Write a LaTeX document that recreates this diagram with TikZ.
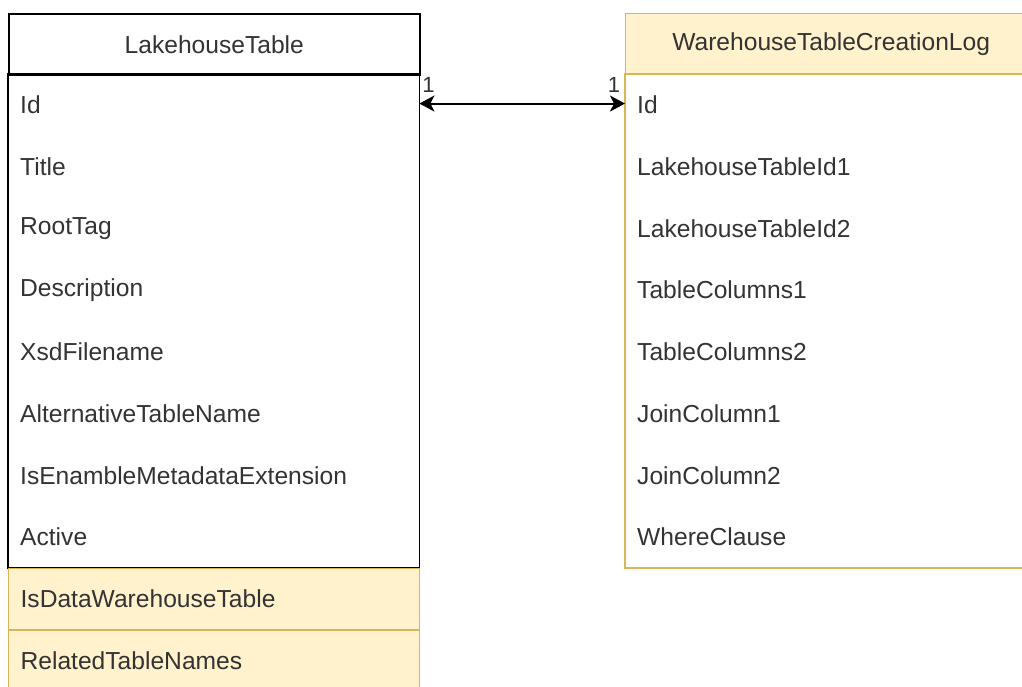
\documentclass[tikz,border=0pt]{standalone}
\usepackage{fontspec}
\setmainfont{Liberation Sans}
\usetikzlibrary{arrows.meta}
\definecolor{noteFill}{HTML}{FFF2CC}
\definecolor{noteLine}{HTML}{D6B656}
\definecolor{ink}{HTML}{333333}
\tikzset{
  x=1pt, y=-1pt,
  every node/.style={font=\fontsize{24.6}{28}\selectfont, text=ink},
  field/.style={rectangle, anchor=north west, minimum width=411pt, minimum height=61.7pt,
    inner xsep=12pt, inner ysep=0pt, text width=387pt, align=left},
  headbox/.style={rectangle, anchor=north west, minimum width=411pt, minimum height=61pt,
    inner sep=0pt, align=center},
  plainline/.style={draw=black, line width=1.6pt},
  noteline/.style={draw=noteLine, line width=1.3pt},
  card/.style={font=\fontsize{22}{24}\selectfont, text=ink, inner sep=0pt},
  link/.style={line width=2pt, {Stealth[length=15pt,width=16pt,inset=4pt]}-{Stealth[length=15pt,width=16pt,inset=4pt]}}
}
\begin{document}
\begin{tikzpicture}
\useasboundingbox (0,0) rectangle (1022,686);

% LakehouseTable
\node[headbox, plainline, fill=white] (lhead) at (8,13) {LakehouseTable};
\node[field] (lid)    at (8,74)    {Id};
\node[field] (ltitle) at (8,135.7) {Title};
\node[field] (lroot)  at (8,197.4) {RootTag};
\node[field] (ldesc)  at (8,259.1) {Description};
\node[field] (lxsd)   at (8,320.8) {XsdFilename};
\node[field] (lalt)   at (8,382.5) {AlternativeTableName};
\node[field] (lmeta)  at (8,444.2) {IsEnambleMetadataExtension};
\node[field] (lact)   at (8,505.9) {Active};
\draw[plainline] (lid.north west) rectangle (lact.south east);
\node[field, noteline, fill=noteFill] (ldwh) at (8,567.6) {IsDataWarehouseTable};
\node[field, noteline, fill=noteFill] (lrel) at (8,629.3) {RelatedTableNames};

% WarehouseTableCreationLog
\node[headbox, noteline, fill=noteFill] (rhead) at (625,13) {WarehouseTableCreationLog};
\node[field] (rid)    at (625,74)    {Id};
\node[field] (rlt1)   at (625,135.7) {LakehouseTableId1};
\node[field] (rlt2)   at (625,197.4) {LakehouseTableId2};
\node[field] (rtc1)   at (625,259.1) {TableColumns1};
\node[field] (rtc2)   at (625,320.8) {TableColumns2};
\node[field] (rjc1)   at (625,382.5) {JoinColumn1};
\node[field] (rjc2)   at (625,444.2) {JoinColumn2};
\node[field] (rwhere) at (625,505.9) {WhereClause};
\draw[noteline] (rid.north west) rectangle (rwhere.south east);

% one-to-one relation
\draw[link] ([yshift=1.5pt]lid.east) -- ([yshift=1.5pt]rid.west);
\node[card] (lcard) at ([xshift=9pt,yshift=20pt]lid.east) {1};
\node[card] (rcard) at ([xshift=-11pt,yshift=20pt]rid.west) {1};
\end{tikzpicture}
\end{document}
